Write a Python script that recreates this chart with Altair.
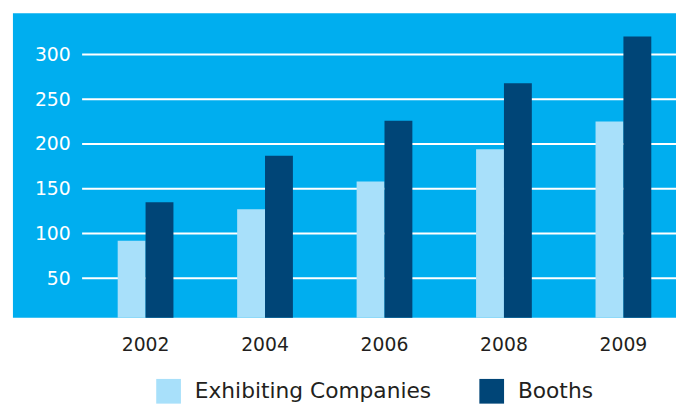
import altair as alt
import pandas as pd

years = ["2002", "2004", "2006", "2008", "2009"]
exhibiting = [92, 127, 158, 194, 225]
booths = [135, 187, 226, 268, 320]
series = ["Exhibiting Companies", "Booths"]
grid_values = [50, 100, 150, 200, 250, 300]

rows = []
for y, e, b in zip(years, exhibiting, booths):
    rows.append({"year": y, "series": series[0], "value": e})
    rows.append({"year": y, "series": series[1], "value": b})
df = pd.DataFrame(rows)
grid_df = pd.DataFrame({"v": grid_values})

W, H = 671, 308
FONT = "DejaVu Sans"

yscale = alt.Scale(domain=[6, 346], zero=False, nice=False)

grid = alt.Chart(grid_df).mark_rule(color="white", strokeWidth=2).encode(
    y=alt.Y("v:Q", scale=yscale, axis=alt.Axis(
        title=None, grid=False, domain=False, ticks=False, tickSize=0,
        values=grid_values, labelPadding=-58, labelColor="white",
        labelFontSize=19, labelFont=FONT)),
    x=alt.value(70),
    x2=alt.value(W),
)

bars = alt.Chart(df).mark_bar(clip=True).encode(
    x=alt.X("year:N", sort=years, scale=alt.Scale(range=[106, 646], paddingInner=0.5333, paddingOuter=0),
            axis=alt.Axis(title=None, domain=False, ticks=False, tickSize=0, labelAngle=0,
                          labelPadding=18, labelColor="#231f20", labelFontSize=19, labelFont=FONT)),
    xOffset=alt.XOffset("series:N", sort=series, scale=alt.Scale(paddingInner=0, paddingOuter=0)),
    y=alt.Y("value:Q", scale=yscale),
    color=alt.Color("series:N", sort=series,
                    scale=alt.Scale(domain=series, range=["#A8E0FA", "#004577"]),
                    legend=alt.Legend(title=None, orient="none", legendX=145, legendY=370,
                                      direction="horizontal", columns=2, padding=0,
                                      symbolType="square", symbolSize=625, symbolStrokeWidth=0,
                                      symbolOpacity=1, labelFontSize=22, labelFont=FONT,
                                      labelColor="#231f20", labelOffset=14, columnPadding=48,
                                      labelLimit=400)),
)

chart = alt.layer(grid, bars).properties(
    width=W, height=H,
    autosize=alt.AutoSizeParams(type="none"),
    padding={"left": 5, "top": 3, "right": 0, "bottom": 85},
    background="white",
).configure_view(fill="#00AEEF", stroke=None)

chart.save("out.html", embed_options={"renderer": "svg", "actions": False})
